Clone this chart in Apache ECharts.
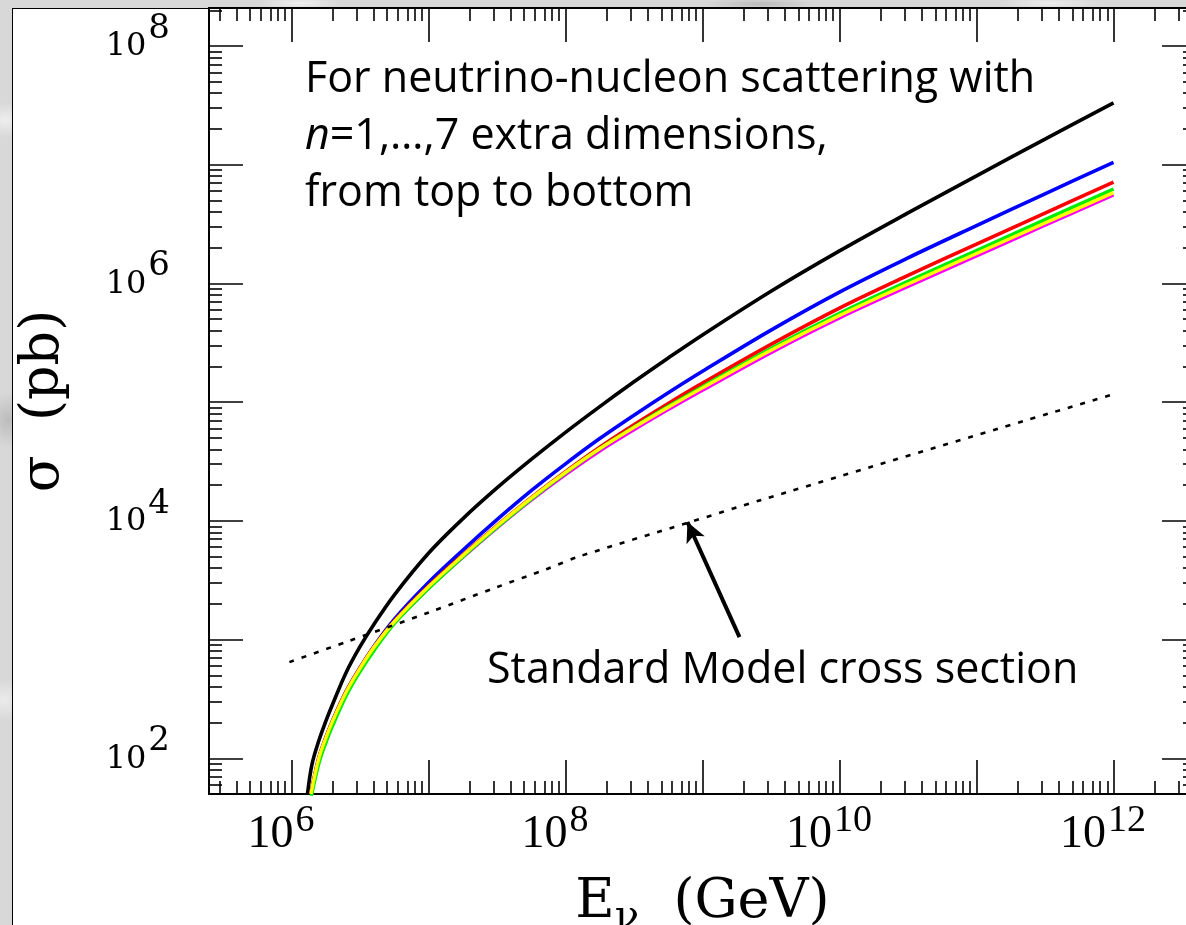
<!DOCTYPE html>
<html>
<head>
<meta charset="utf-8">
<script src="https://cdn.jsdelivr.net/npm/echarts@6/dist/echarts.min.js"></script>
<style>
  html, body { margin: 0; padding: 0; width: 1186px; height: 925px; overflow: hidden; }
  body {
    background-color: #d8d8d8;
    background-image:
      radial-gradient(ellipse 40px 25px at 5px 120px, rgba(255,255,255,0.55), rgba(255,255,255,0) 70%),
      radial-gradient(ellipse 30px 40px at 8px 420px, rgba(160,160,160,0.5), rgba(160,160,160,0) 70%),
      radial-gradient(ellipse 35px 30px at 4px 700px, rgba(255,255,255,0.5), rgba(255,255,255,0) 70%),
      radial-gradient(ellipse 60px 10px at 300px 3px, rgba(255,255,255,0.6), rgba(255,255,255,0) 70%),
      radial-gradient(ellipse 80px 8px at 760px 4px, rgba(150,150,150,0.45), rgba(150,150,150,0) 70%),
      radial-gradient(ellipse 70px 9px at 1050px 3px, rgba(255,255,255,0.55), rgba(255,255,255,0) 70%);
  }
  #paper { position: absolute; left: 12px; top: 8px; width: 1300px; height: 1000px;
           background: #fff; border-left: 1.5px solid #000; border-top: 1.5px solid #000; }
  #chart { position: absolute; left: 0; top: 0; width: 1200px; height: 925px; }
</style>
</head>
<body>
<div id="paper"></div>
<div id="chart"></div>
<script>
// Neutrino-nucleon cross sections, log10 values: E in GeV, sigma in pb.

// n = 1 (black)
const energyExpN1 = [6.117, 6.15, 6.2, 6.25, 6.3, 6.4, 6.5, 6.6, 6.75, 7.0, 7.25, 7.5, 7.75, 8.0, 8.25, 8.5, 8.75, 9.0, 9.5, 10.0, 10.5, 11.0, 11.5, 12.0];
const sigmaExpN1  = [1.70, 1.95, 2.15, 2.31, 2.455, 2.725, 2.94, 3.125, 3.375, 3.727, 4.017, 4.277, 4.517, 4.745, 4.962, 5.171, 5.372, 5.566, 5.934, 6.274, 6.594, 6.906, 7.216, 7.521];

// n = 2 ... 7 share one energy grid
const energyExpKK = [6.142, 6.2, 6.25, 6.3, 6.4, 6.5, 6.6, 6.75, 7.0, 7.25, 7.5, 7.75, 8.0, 8.25, 8.5, 8.75, 9.0, 9.5, 10.0, 10.5, 11.0, 11.5, 12.0];
const sigmaExpN2 = [1.70, 2.006, 2.172, 2.317, 2.566, 2.763, 2.94, 3.17, 3.48, 3.752, 4.01, 4.254, 4.48, 4.693, 4.89, 5.079, 5.26, 5.607, 5.927, 6.215, 6.487, 6.755, 7.02];
const sigmaExpN3 = [1.70, 2.003, 2.169, 2.314, 2.563, 2.76, 2.935, 3.155, 3.45, 3.712, 3.96, 4.196, 4.415, 4.621, 4.81, 4.989, 5.16, 5.487, 5.792, 6.067, 6.331, 6.593, 6.854];
const sigmaExpN4 = [1.665, 1.96, 2.13, 2.275, 2.53, 2.73, 2.905, 3.135, 3.43, 3.697, 3.947, 4.184, 4.405, 4.608, 4.79, 4.964, 5.13, 5.452, 5.747, 6.017, 6.277, 6.537, 6.795];
const sigmaExpN5 = [1.70, 2.002, 2.168, 2.313, 2.561, 2.757, 2.932, 3.15, 3.445, 3.707, 3.957, 4.192, 4.408, 4.608, 4.787, 4.957, 5.12, 5.437, 5.729, 5.995, 6.252, 6.509, 6.765];
const sigmaExpN6 = [1.70, 1.996, 2.162, 2.307, 2.555, 2.751, 2.926, 3.143, 3.437, 3.698, 3.947, 4.181, 4.396, 4.595, 4.774, 4.944, 5.107, 5.424, 5.716, 5.982, 6.239, 6.497, 6.753];
const sigmaExpN7 = [1.70, 1.992, 2.158, 2.303, 2.55, 2.746, 2.92, 3.137, 3.43, 3.69, 3.939, 4.173, 4.388, 4.587, 4.766, 4.936, 5.099, 5.416, 5.708, 5.973, 6.23, 6.489, 6.745];

// Standard Model cross section
const energyExpSM = [5.985, 6.40, 7.007, 7.496, 7.86, 8.10, 8.883, 9.44, 12.0];
const sigmaExpSM  = [2.81, 2.98, 3.23, 3.44, 3.593, 3.70, 3.98, 4.18, 5.067];

// Arrow pointing at the SM curve: [log10 E, log10 sigma]
const arrowTail = [9.27, 3.02];
const arrowHead = [8.89, 3.99];

// Axis ranges (decades)
const xRange = [5.398, 12.602];
const yRange = [1.699, 8.32];
const xMajorTicks = [6, 7, 8, 9, 10, 11, 12];
const yMajorTicks = [2, 3, 4, 5, 6, 7, 8];
const xLabelExps = [6, 8, 10, 12];
const yLabelExps = [2, 4, 6, 8];

const lineColors = { n1: '#000000', n2: '#0000ff', n3: '#ff0000', n4: '#00ee00', n5: '#ffff00', n6: '#00ffff', n7: '#ff00ff' };

function minorTicks(lo, hi) {
  const out = [];
  for (let d = Math.floor(lo); d <= Math.ceil(hi); d++) {
    for (let k = 2; k <= 9; k++) {
      const v = d + Math.log10(k);
      if (v > lo && v < hi) out.push(v);
    }
  }
  return out;
}
const pairs = (xs, ys) => xs.map((x, i) => [x, ys[i]]);

const serif = 'DejaVu Serif';
const axisLineStyle = { color: '#000', width: 1.8 };

function makeXAxis(position, major, withLabels) {
  return {
    type: 'value', position, min: xRange[0], max: xRange[1],
    axisLine: { show: true, onZero: false, lineStyle: axisLineStyle },
    axisTick: { show: true, inside: true, length: major ? 34 : 13,
      customValues: major ? xMajorTicks : minorTicks(xRange[0], xRange[1]),
      lineStyle: { color: '#000', width: 1.6 } },
    splitLine: { show: false },
    axisLabel: withLabels ? {
      show: true, margin: 18, customValues: xLabelExps, color: '#000',
      formatter: v => '{b|10}{s|' + Math.round(v) + '}',
      rich: {
        b: { fontFamily: 'Liberation Serif', fontSize: 46, lineHeight: 46, verticalAlign: 'bottom', color: '#000' },
        s: { fontFamily: 'Liberation Serif', fontSize: 38, lineHeight: 38, verticalAlign: 'bottom', padding: [0, 21, 18, 2], color: '#000' }
      }
    } : { show: false }
  };
}
function makeYAxis(position, major, withLabels) {
  return {
    type: 'value', position, min: yRange[0], max: yRange[1],
    axisLine: { show: true, onZero: false, lineStyle: axisLineStyle },
    axisTick: { show: true, inside: true, length: major ? 34 : 13,
      customValues: major ? yMajorTicks : minorTicks(yRange[0], yRange[1]),
      lineStyle: { color: '#000', width: 1.6 } },
    splitLine: { show: false },
    axisLabel: withLabels ? {
      show: true, margin: 39, customValues: yLabelExps, color: '#000',
      formatter: v => '{b|10}{s|' + Math.round(v) + '}',
      rich: {
        b: { fontFamily: serif, fontSize: 32, lineHeight: 32, verticalAlign: 'bottom', padding: [29, 0, 0, 0], color: '#000' },
        s: { fontFamily: serif, fontSize: 34, lineHeight: 34, verticalAlign: 'bottom', padding: [0, 0, 17, 2], color: '#000' }
      }
    } : { show: false }
  };
}

const xAxes = [makeXAxis('bottom', true, true), makeXAxis('bottom', false, false),
               makeXAxis('top', true, false), makeXAxis('top', false, false)];
xAxes[0].name = '{e|E}{nu|ν}{g|  (GeV)}';
xAxes[0].nameLocation = 'middle';
xAxes[0].nameGap = 82;
xAxes[0].nameMoveOverlap = false;
xAxes[0].nameTextStyle = {
  rich: {
    e: { fontFamily: serif, fontSize: 54, lineHeight: 62, verticalAlign: 'top', color: '#000' },
    nu: { fontFamily: serif, fontSize: 40, lineHeight: 40, padding: [45, 0, 0, 0], verticalAlign: 'bottom', color: '#000' },
    g: { fontFamily: serif, fontSize: 54, lineHeight: 62, verticalAlign: 'top', color: '#000' }
  }
};

const yAxes = [makeYAxis('left', true, true), makeYAxis('left', false, false),
               makeYAxis('right', true, false), makeYAxis('right', false, false)];
yAxes[0].name = 'σ  (pb)';
yAxes[0].nameLocation = 'middle';
yAxes[0].nameGap = 138;
yAxes[0].nameMoveOverlap = false;
yAxes[0].nameTextStyle = { fontFamily: serif, fontSize: 54, color: '#000' };

function curve(name, xs, ys, color, width) {
  return {
    type: 'line', name, data: pairs(xs, ys), xAxisIndex: 0, yAxisIndex: 0,
    showSymbol: false, smooth: 0.35, clip: true, silent: true,
    lineStyle: { color, width }, animation: false
  };
}

const series = [
  curve('n=6', energyExpKK, sigmaExpN6, lineColors.n6, 3.2),
  curve('n=7', energyExpKK, sigmaExpN7, lineColors.n7, 3.2),
  curve('n=1', energyExpN1, sigmaExpN1, lineColors.n1, 3.6),
  curve('n=2', energyExpKK, sigmaExpN2, lineColors.n2, 3.6),
  curve('n=3', energyExpKK, sigmaExpN3, lineColors.n3, 3.6),
  curve('n=4', energyExpKK, sigmaExpN4, lineColors.n4, 3.6),
  curve('n=5', energyExpKK, sigmaExpN5, lineColors.n5, 3.4),
  {
    type: 'line', name: 'SM', data: pairs(energyExpSM, sigmaExpSM), xAxisIndex: 0, yAxisIndex: 0,
    showSymbol: false, smooth: 0.3, clip: true, silent: true, animation: false,
    lineStyle: { color: '#000', width: 2.6, type: [5, 8] },
    markLine: {
      silent: true, animation: false, symbol: ['none', 'arrow'], symbolSize: [15, 20],
      label: { show: false },
      lineStyle: { color: '#000', width: 4, type: 'solid' },
      data: [[{ coord: arrowTail }, { coord: arrowHead }]]
    }
  }
];

const noteFont = '43px "Open Sans"';
const chart = echarts.init(document.getElementById('chart'), null, { renderer: 'canvas' });
chart.setOption({
  backgroundColor: 'transparent',
  animation: false,
  grid: { left: 209, right: 4, top: 8, bottom: 131, containLabel: false, outerBoundsMode: 'none' },
  xAxis: xAxes,
  yAxis: yAxes,
  series,
  graphic: [
    { type: 'text', x: 305, y: 80, z: 100, style: { text: 'For neutrino-nucleon scattering with', font: noteFont, fill: '#000', textVerticalAlign: 'middle' } },
    { type: 'text', x: 305, y: 137, z: 100, style: { text: '{i|n}=1,…,7 extra dimensions,', fill: '#000', textVerticalAlign: 'middle',
        font: noteFont,
        rich: { i: { font: 'italic 43px "Open Sans"', fill: '#000' } } } },
    { type: 'text', x: 305, y: 194, z: 100, style: { text: 'from top to bottom', font: noteFont, fill: '#000', textVerticalAlign: 'middle' } },
    { type: 'text', x: 487, y: 671, z: 100, style: { text: 'Standard Model cross section', font: noteFont, fill: '#000', textVerticalAlign: 'middle' } }
  ]
});
</script>
</body>
</html>
